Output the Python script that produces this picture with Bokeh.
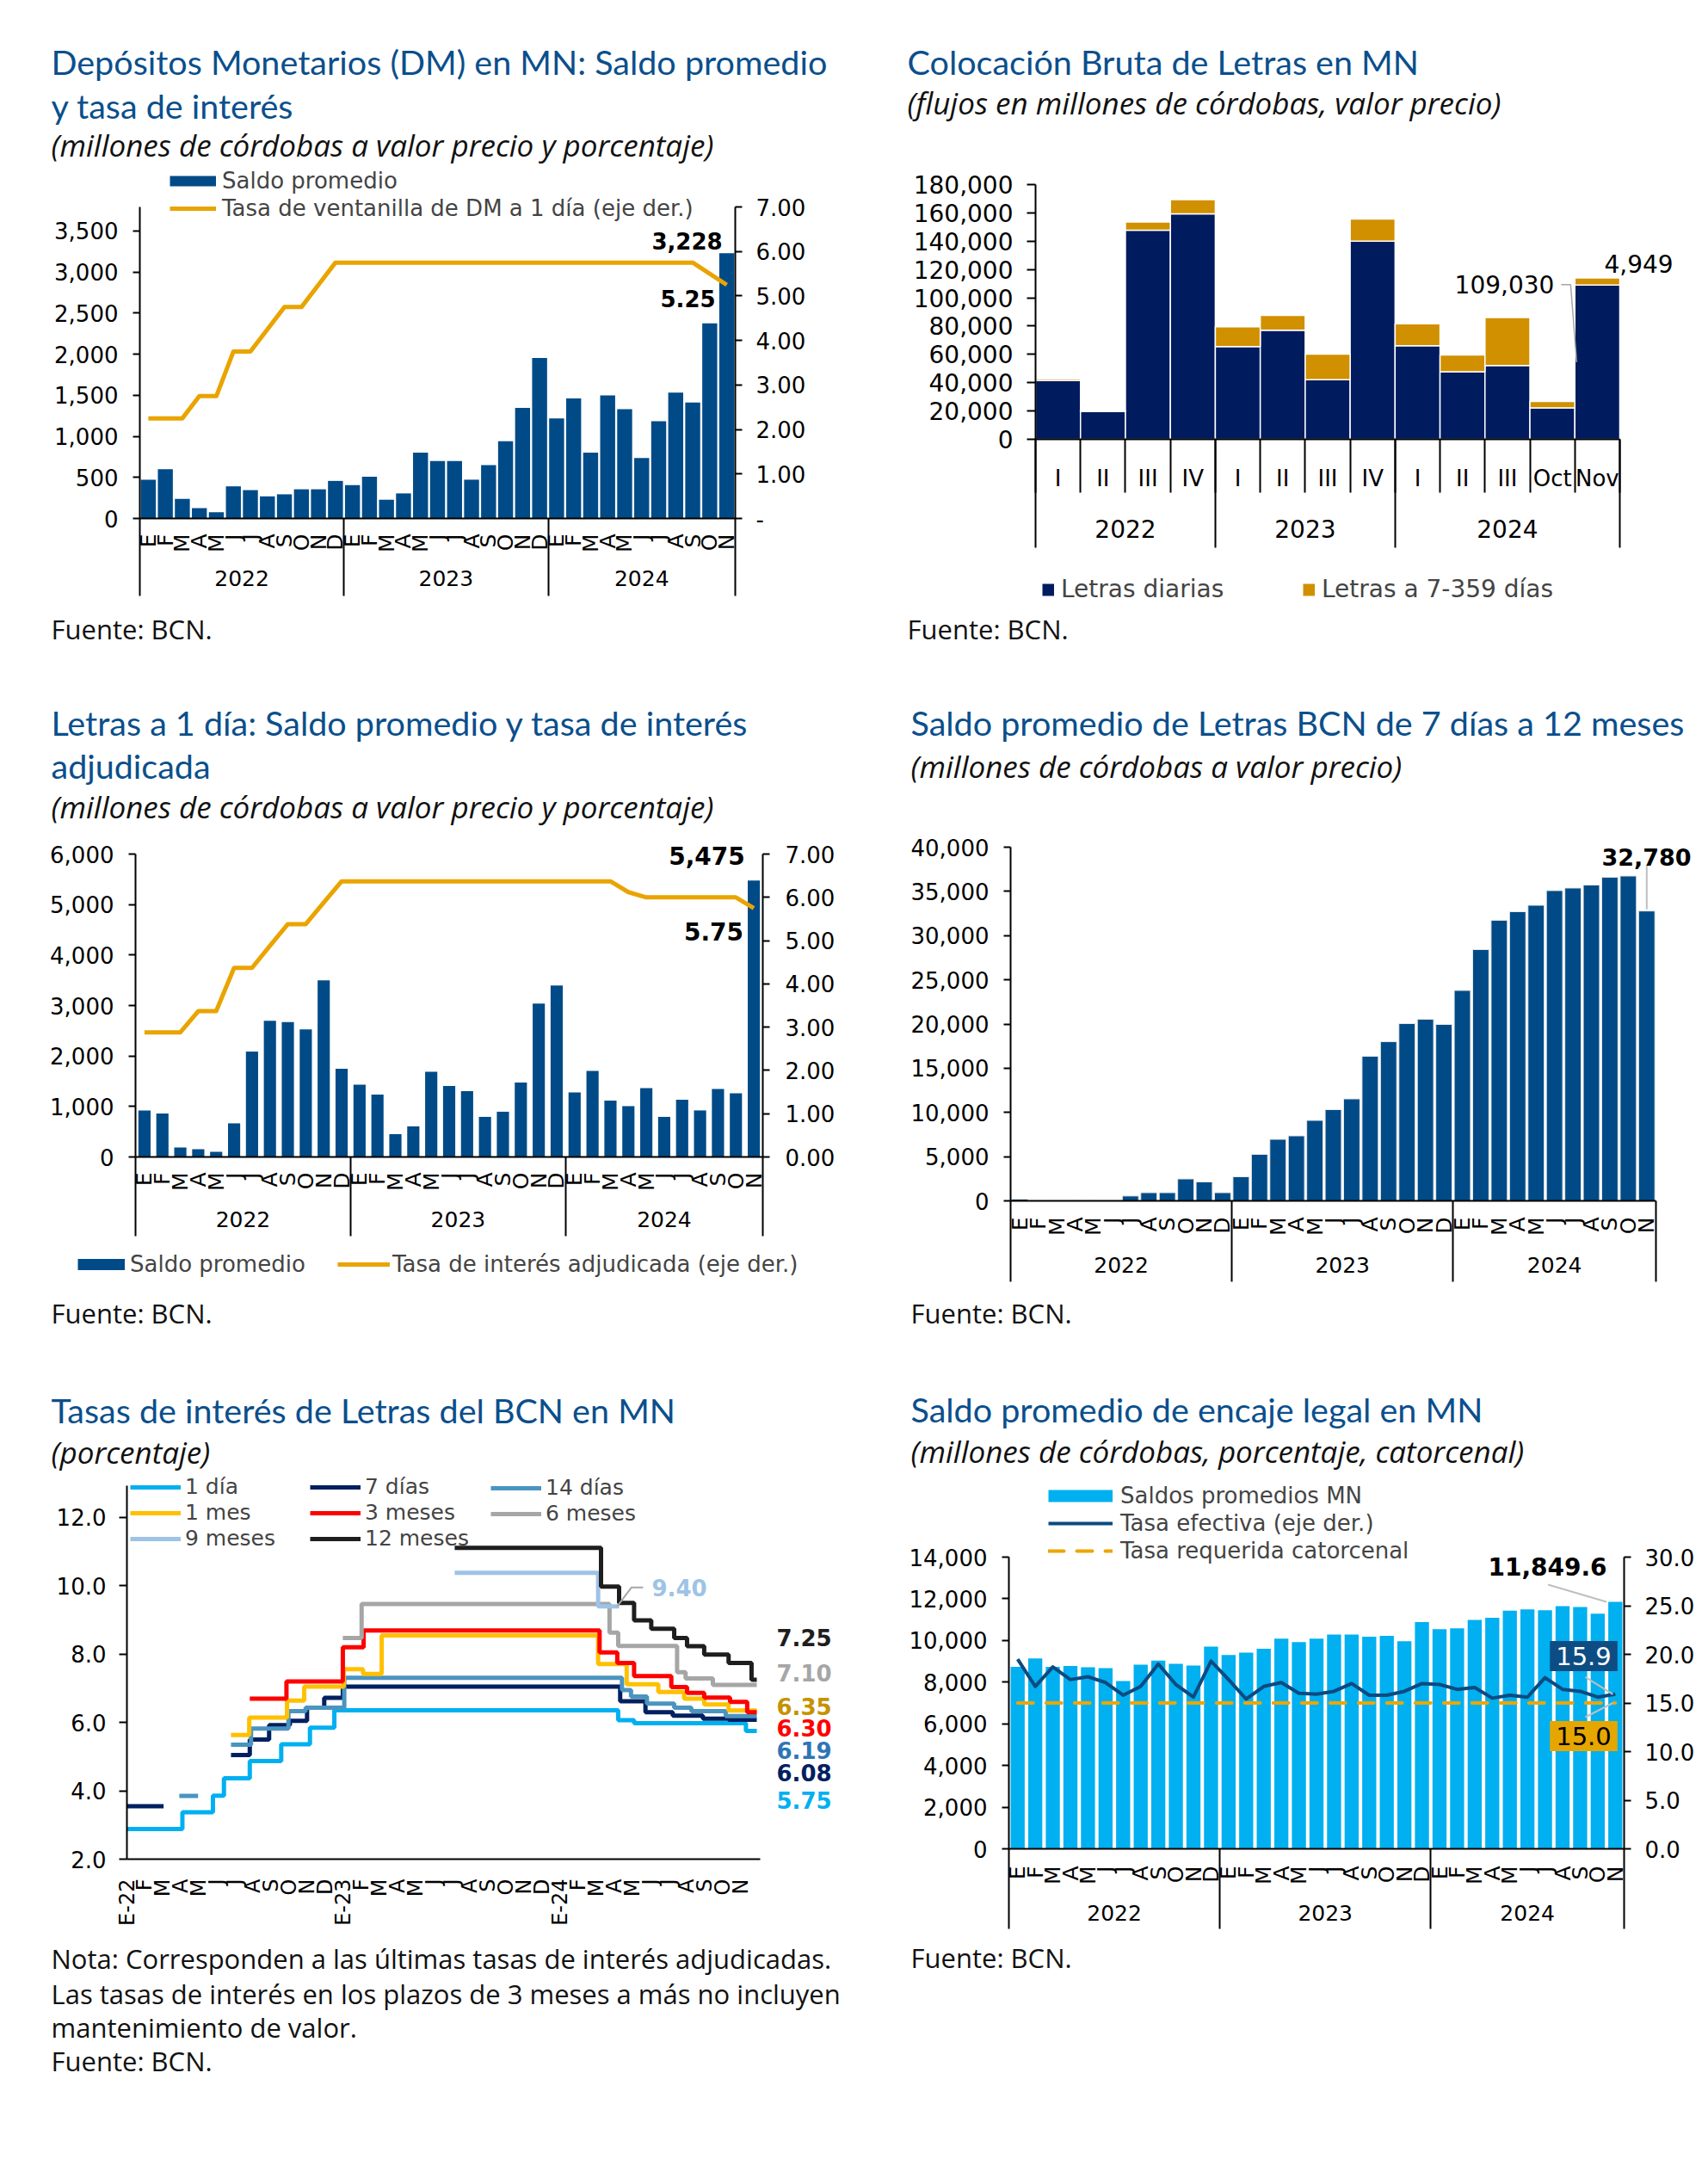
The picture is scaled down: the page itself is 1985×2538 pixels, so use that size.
import numpy as np
from math import pi
from bokeh.plotting import figure
from bokeh.models import (Range1d, LinearAxis, FixedTicker, NumeralTickFormatter,
                          Label, Legend, LegendItem)
from bokeh.layouts import column, row
from bokeh.embed import file_html
from bokeh.resources import INLINE

# ---------------------------------------------------------------- data
MESES = ["E", "F", "M", "A", "M", "J", "J", "A", "S", "O", "N", "D"]
MONTHS35 = MESES + MESES + MESES[:11]
YEARS = ["2022", "2023", "2024"]
MONTHS_5 = ["E-22"] + MESES[1:] + ["E-23"] + MESES[1:] + ["E-24"] + MESES[1:11]

# Chart 1: Depositos monetarios
dm_saldo = [472, 599, 239, 127, 76, 391, 345, 269, 294, 355, 355, 457,
            406, 508, 228, 305, 802, 700, 700, 472, 650, 939, 1345, 1954,
            1218, 1462, 802, 1497, 1330, 736, 1183, 1533, 1411, 2376, 3228]
dm_tasa = [2.25, 2.25, 2.25, 2.75, 2.75, 3.75, 3.75, 4.25, 4.75, 4.75, 5.25, 5.75,
           5.75, 5.75, 5.75, 5.75, 5.75, 5.75, 5.75, 5.75, 5.75, 5.75, 5.75, 5.75,
           5.75, 5.75, 5.75, 5.75, 5.75, 5.75, 5.75, 5.75, 5.75, 5.50, 5.25]

# Chart 2: Colocacion bruta
quarters = ["I", "II", "III", "IV", "I", "II", "III", "IV", "I", "II", "III", "Oct", "Nov"]
q_years = ["2022", "2023", "2024"]
diarias = [41500, 19600, 147700, 159300, 65500, 77100, 42100, 140000,
           66100, 47700, 52200, 22200, 109030]
letras7 = [1200, 600, 5900, 10000, 14000, 10400, 18100, 15700,
           15500, 11900, 33800, 4500, 4949]

# Chart 3: Letras a 1 dia
l1_saldo = [922, 862, 188, 154, 102, 666, 2090, 2696, 2671, 2526, 3498, 1749,
            1433, 1237, 452, 606, 1689, 1408, 1305, 794, 896, 1476, 3038, 3396,
            1280, 1706, 1118, 1007, 1365, 794, 1135, 922, 1348, 1263, 5475]
l1_tasa = [2.88, 2.88, 2.88, 3.37, 3.37, 4.37, 4.37, 4.88, 5.38, 5.38, 5.88, 6.37,
           6.37, 6.37, 6.37, 6.37, 6.37, 6.37, 6.37, 6.37, 6.37, 6.37, 6.37, 6.37,
           6.37, 6.37, 6.37, 6.12, 6.00, 6.00, 6.00, 6.00, 6.00, 6.00, 5.75]

# Chart 4: Letras 7 dias a 12 meses
bcn_saldo = [195, 30, 30, 40, 50, 30, 550, 925, 925, 2480, 2140, 925,
             2725, 5255, 6960, 7350, 9100, 10315, 11530, 16350, 18000, 20050, 20540, 19950,
             23800, 28420, 31730, 32700, 33430, 35090, 35380, 35720, 36600, 36740, 32780]

# Chart 5: tasas (step series, x = month position from E-22)
t1d_x = [0, 3.07, 4.76, 5.37, 6.8, 8.54, 10.13, 11.48, 27.19, 28.07, 34.26, 34.86]
t1d_y = [2.88, 3.37, 3.86, 4.37, 4.87, 5.36, 5.85, 6.36, 6.07, 5.98, 5.75, 5.75]
t7d_x_a = [0, 2.03]
t7d_y_a = [3.55, 3.55]
t7d_x_b = [5.76, 6.8, 7.87, 9.02, 9.97, 10.92, 11.95, 27.3, 28.7, 30.21, 31.88, 33.3, 34.86]
t7d_y_b = [5.05, 5.50, 5.92, 6.05, 6.43, 6.72, 7.05, 6.62, 6.30, 6.20, 6.11, 6.08, 6.08]
t14d_x_a = [2.9, 3.94]
t14d_y_a = [3.85, 3.85]
t14d_x_b = [5.76, 6.87, 8.94, 9.89, 12.03, 27.4, 27.9, 28.78, 30.29, 31.24, 33.14, 34.86]
t14d_y_b = [5.35, 5.82, 6.33, 6.43, 7.31, 6.95, 6.76, 6.55, 6.43, 6.33, 6.19, 6.19]
t1m_x = [5.76, 6.77, 8.86, 9.81, 12.0, 13.07, 14.1, 26.08, 27.66, 29.41, 30.84, 31.95, 33.3, 34.86]
t1m_y = [5.63, 6.14, 6.64, 7.05, 7.56, 7.42, 8.55, 7.71, 7.12, 6.89, 6.70, 6.53, 6.35, 6.35]
t3m_x = [6.8, 8.83, 11.95, 13.1, 26.16, 27.14, 28.07, 30.13, 31.0, 31.95, 33.38, 34.33, 34.86]
t3m_y = [6.70, 7.20, 8.20, 8.69, 8.05, 7.74, 7.36, 7.04, 6.87, 6.73, 6.60, 6.30, 6.30]
t6m_x = [11.95, 12.99, 26.71, 27.19, 30.45, 30.92, 32.43, 34.86]
t6m_y = [8.47, 9.47, 8.63, 8.24, 7.47, 7.29, 7.10, 7.10]
t9m_x = [18.14, 26.08, 27.24]
t9m_y = [10.38, 9.40, 9.40]
t12m_x = [18.14, 26.24, 27.24, 28.07, 29.02, 30.29, 31.0, 31.95, 33.3, 34.57, 34.86]
t12m_y = [11.11, 9.98, 9.50, 8.99, 8.74, 8.47, 8.23, 7.99, 7.74, 7.25, 7.25]

# Chart 6: encaje legal
encaje = [8737, 9139, 8737, 8777, 8717, 8677, 8054, 8837, 9038, 8877, 8797, 9701,
          9299, 9420, 9600, 10082, 9922, 10082, 10283, 10283, 10183, 10223, 9962, 10886,
          10544, 10584, 10986, 11087, 11428, 11488, 11448, 11649, 11609, 11288, 11849.6]
tasa_ef = [19.5, 16.7, 18.7, 17.4, 17.7, 17.1, 15.8, 16.7, 19.0, 16.9, 15.6, 19.3,
           17.4, 15.4, 16.7, 17.1, 16.0, 15.9, 16.2, 17.0, 15.8, 15.8, 16.2, 17.0,
           16.9, 16.4, 16.6, 15.5, 15.8, 15.6, 17.6, 16.4, 16.2, 15.6, 15.9]
tasa_req = [15.0] * 35

# ---------------------------------------------------------------- style
TITLE_FONT = "Lato"
SUB_FONT = "Open Sans"
TXT_FONT = "DejaVu Sans"
TITLE_COLOR = "#0B4F8C"
TITLE_SIZE = 39.5
BAR_BLUE = "#004B87"
GOLD = "#E9A400"
NAVY2 = "#001B5E"
GOLD2 = "#D09000"
CYAN = "#00B0F0"
NAN2 = [np.nan, np.nan]


class Panel:
    """One figure whose frame covers the whole cell; the plot box maps to the data extents."""

    def __init__(self, origin, size, box, xd, yd, extra=None):
        ox, oy = origin
        w, h = size
        L, T, R, B = box
        self.ox, self.oy, self.w, self.h = ox, oy, w, h
        self.xd, self.yd = xd, yd
        self.extra_d = extra or {}
        self.dx = (xd[1] - xd[0]) / (R - L)          # data per pixel
        self.dy = {"default": (yd[1] - yd[0]) / (B - T)}
        xr = Range1d(xd[0] - (L - ox) * self.dx, xd[1] + (ox + w - R) * self.dx)
        yr = Range1d(yd[0] - (oy + h - B) * self.dy["default"], yd[1] + (T - oy) * self.dy["default"])
        p = figure(width=w, height=h, x_range=xr, y_range=yr, output_backend="svg",
                   toolbar_location=None, x_axis_location=None, y_axis_location=None,
                   min_border_left=0, min_border_right=0, min_border_top=0, min_border_bottom=0)
        p.title.visible = False
        ers = {}
        for name, (a0, a1) in self.extra_d.items():
            d = (a1 - a0) / (B - T)
            self.dy[name] = d
            ers[name] = Range1d(a0 - (oy + h - B) * d, a1 + (T - oy) * d)
        if ers:
            p.extra_y_ranges = ers
        p.outline_line_color = None
        p.xgrid.visible = False
        p.ygrid.visible = False
        p.background_fill_color = "white"
        p.border_fill_color = "white"
        self.p = p

    def text(self, px, py, txt, size, color="black", font=TXT_FONT, style="normal",
             align="left", baseline="middle", **kw):
        self.p.add_layout(Label(x=px - self.ox, y=self.oy + self.h - py,
                                x_units="screen", y_units="screen",
                                text=txt, text_font=font, text_font_size=f"{size}px",
                                text_color=color, text_font_style=style,
                                text_align=align, text_baseline=baseline, **kw))

    def titles(self, x, lines, sub, sub_y, fuente_y, notes=()):
        for y, t in lines:
            self.text(x, y, t, TITLE_SIZE, TITLE_COLOR, TITLE_FONT)
        self.text(x, sub_y, sub, 35, "#111111", SUB_FONT, "italic")
        for y, t in notes:
            self.text(x, y, t, 31, "#111111", SUB_FONT)
        self.text(x, fuente_y, "Fuente: BCN.", 31, "#111111", SUB_FONT)

    def legend(self, items, px, py_top, glyph_w, row_h, size, standoff, spacing=0):
        n = len(items)
        bottom = py_top + n * row_h + (n - 1) * spacing
        lg = Legend(items=[LegendItem(label=l, renderers=[r]) for l, r in items],
                    location=(px - self.ox, self.oy + self.h - bottom), orientation="vertical",
                    glyph_width=int(glyph_w), glyph_height=int(row_h), label_height=int(row_h),
                    spacing=int(spacing), padding=0, margin=0, border_line_color=None,
                    background_fill_alpha=0, label_text_font=TXT_FONT,
                    label_text_font_size=f"{size}px", label_standoff=int(standoff))
        self.p.add_layout(lg)

    def leader(self, anchor, offsets, rname="default", color="#A6A6A6", width=1.5):
        ax, ay = anchor
        xs = [ax + dx * self.dx for dx, dy in offsets]
        ys = [ay - dy * self.dy[rname] for dx, dy in offsets]
        self.p.line(xs, ys, y_range_name=rname, line_color=color, line_width=width)


def yaxis(c, side, ticks, fmt, rname="default", overrides=None, size=26, tick_out=8, standoff=17):
    loc = c.xd[0] if side == "left" else c.xd[1]
    bounds = c.yd if rname == "default" else c.extra_d[rname]
    ax = LinearAxis(y_range_name=rname, fixed_location=loc, bounds=tuple(float(b) for b in bounds),
                    ticker=FixedTicker(ticks=ticks, minor_ticks=[]),
                    formatter=NumeralTickFormatter(format=fmt))
    ax.major_tick_out = tick_out
    ax.major_tick_in = 0
    ax.minor_tick_out = 0
    ax.minor_tick_in = 0
    ax.major_tick_line_width = 2
    ax.major_tick_line_color = "black"
    ax.minor_tick_line_color = None
    ax.axis_line_color = "black"
    ax.axis_line_width = 2
    ax.major_label_text_font = TXT_FONT
    ax.major_label_text_font_size = f"{size}px"
    ax.major_label_text_color = "black"
    ax.major_label_standoff = standoff
    if overrides:
        ax.major_label_overrides = overrides
    c.p.add_layout(ax, side)
    return ax


def cat_axes(c, centers, labels, seps, sep_len, off1, rot, size1,
             gcenters=None, glabels=None, off2=0, size2=25, gseps=None, gsep_len=0):
    """Two horizontal axes on the same baseline: category labels + group labels.
    offN = distance in px from the baseline to the labels."""
    bounds = tuple(float(b) for b in c.xd)
    ax1 = LinearAxis(fixed_location=c.yd[0], bounds=bounds,
                     ticker=FixedTicker(ticks=centers, minor_ticks=seps))
    ax1.major_label_overrides = dict(zip(centers, labels))
    ax1.major_tick_line_color = None
    ax1.major_tick_out = 0
    ax1.major_tick_in = 0
    ax1.minor_tick_out = sep_len
    ax1.minor_tick_in = 0
    ax1.minor_tick_line_color = "black" if seps else None
    ax1.minor_tick_line_width = 2
    ax1.axis_line_color = "black"
    ax1.axis_line_width = 2
    if rot:
        ax1.major_label_orientation = pi / 2
    ax1.major_label_standoff = off1 - sep_len
    ax1.major_label_text_font = TXT_FONT
    ax1.major_label_text_font_size = f"{size1}px"
    ax1.major_label_text_color = "black"
    c.p.add_layout(ax1, "below")
    if gcenters:
        ax2 = LinearAxis(fixed_location=c.yd[0], bounds=bounds,
                         ticker=FixedTicker(ticks=gcenters, minor_ticks=gseps or []))
        ax2.major_label_overrides = dict(zip(gcenters, glabels))
        ax2.axis_line_color = None
        ax2.major_tick_line_color = None
        ax2.major_tick_out = 0
        ax2.major_tick_in = 0
        ax2.minor_tick_in = 0
        if gseps:
            ax2.minor_tick_out = gsep_len
            ax2.minor_tick_line_color = "black"
            ax2.minor_tick_line_width = 2
        else:
            ax2.minor_tick_out = 0
            ax2.minor_tick_line_color = None
        ax2.major_label_standoff = off2 - (gsep_len if gseps else 0)
        ax2.major_label_text_font = TXT_FONT
        ax2.major_label_text_font_size = f"{size2}px"
        ax2.major_label_text_color = "black"
        c.p.add_layout(ax2, "below")


x35 = np.arange(35) + 0.5
mcenters = [float(v) for v in x35]
ycenters = [6.0, 18.0, 29.5]
ysep = [0, 12, 24, 35]

# ---------------------------------------------------------------- chart 1
c1 = Panel((8, 8), (992, 772), (162, 240, 854, 602), (0, 35), (0, 3792), {"r": (0, 7)})
p1 = c1.p
p1.vbar(x=x35, top=dm_saldo, width=0.88, fill_color=BAR_BLUE, line_color=None)
r1 = p1.line(x35, dm_tasa, y_range_name="r", line_width=5, line_color=GOLD, line_join="round")
yaxis(c1, "left", list(range(0, 3501, 500)), "0,0")
yaxis(c1, "right", list(range(0, 8)), "0.00", rname="r", overrides={0: "-"}, standoff=16)
cat_axes(c1, mcenters, MONTHS35, ysep, 90, 18, True, 25, ycenters, YEARS, 60, 25)
prox1 = p1.line(NAN2, NAN2, line_width=12, line_color=BAR_BLUE)
c1.legend([("Saldo promedio", prox1), ("Tasa de ventanilla de DM a 1 día (eje der.)", r1)],
          197, 194, 54, 32, 26, 7)
c1.titles(59, [(71, "Depósitos Monetarios (DM) en MN: Saldo promedio"), (122, "y tasa de interés")],
          "(millones de córdobas a valor precio y porcentaje)", 168, 730)
c1.text(798, 279, "3,228", 26, "black", TXT_FONT, "bold", "center")
c1.text(799, 346, "5.25", 26, "black", TXT_FONT, "bold", "center")

# ---------------------------------------------------------------- chart 2
c2 = Panel((1000, 8), (977, 772), (1203, 214, 1882, 510), (0, 13), (0, 180000))
p2 = c2.p
x13 = np.arange(13) + 0.5
tot = np.array(diarias) + np.array(letras7)
p2.vbar(x=x13, bottom=0, top=diarias, width=1, fill_color=NAVY2, line_color="white", line_width=1.5)
p2.vbar(x=x13, bottom=diarias, top=tot, width=1, fill_color=GOLD2, line_color="white", line_width=1.5)
yaxis(c2, "left", list(range(0, 180001, 20000)), "0,0", size=28, tick_out=10, standoff=16)
cat_axes(c2, [float(v) for v in x13], quarters, list(range(14)), 62, 30, False, 26,
         [2.0, 6.0, 10.5], q_years, 93, 28, gseps=[0, 4, 8, 13], gsep_len=126)
pd1 = p2.line(NAN2, NAN2, line_width=14, line_color=NAVY2)
pd2 = p2.line(NAN2, NAN2, line_width=14, line_color=GOLD2)
c2.legend([("Letras diarias", pd1)], 1211, 669, 14, 32, 28, 8)
c2.legend([("Letras a 7-359 días", pd2)], 1514, 669, 14, 32, 28, 8)
c2.titles(1054, [(71, "Colocación Bruta de Letras en MN")],
          "(flujos en millones de córdobas, valor precio)", 119, 730)
c2.text(1748, 330, "109,030", 28, "black", TXT_FONT, "normal", "center")
c2.text(1904, 306, "4,949", 28, "black", TXT_FONT, "normal", "center")
c2.leader((x13[-1] - 0.46, diarias[-1] / 2), [(-18, -90), (-7, -90), (0, 0)])

# ---------------------------------------------------------------- chart 3
c3 = Panel((8, 780), (992, 780), (157, 992, 886, 1344), (0, 35), (0, 6000), {"r": (0, 7)})
p3 = c3.p
p3.vbar(x=x35, top=l1_saldo, width=0.68, fill_color=BAR_BLUE, line_color=None)
r3 = p3.line(x35, l1_tasa, y_range_name="r", line_width=5, line_color=GOLD, line_join="round")
yaxis(c3, "left", list(range(0, 6001, 1000)), "0,0")
yaxis(c3, "right", list(range(0, 8)), "0.00", rname="r", standoff=18)
cat_axes(c3, mcenters, MONTHS35, ysep, 92, 18, True, 25, ycenters, YEARS, 63, 25)
prox3 = p3.line(NAN2, NAN2, line_width=13, line_color=BAR_BLUE)
c3.legend([("Saldo promedio", prox3)], 90, 1454, 55, 30, 26, 6)
c3.legend([("Tasa de interés adjudicada (eje der.)", r3)], 392, 1454, 61, 30, 26, 3)
c3.titles(59, [(839, "Letras a 1 día: Saldo promedio y tasa de interés"), (889, "adjudicada")],
          "(millones de córdobas a valor precio y porcentaje)", 937, 1525)
c3.text(821, 994, "5,475", 28, "black", TXT_FONT, "bold", "center")
c3.text(829, 1082, "5.75", 28, "black", TXT_FONT, "bold", "center")

# ---------------------------------------------------------------- chart 4
c4 = Panel((1000, 780), (977, 780), (1174, 984, 1924, 1395), (0, 35), (0, 40000))
p4 = c4.p
p4.vbar(x=x35, top=bcn_saldo, width=0.88, fill_color=BAR_BLUE, line_color="#E6E6E6", line_width=1)
yaxis(c4, "left", list(range(0, 40001, 5000)), "0,0")
cat_axes(c4, mcenters, MONTHS35, ysep, 94, 19, True, 25, ycenters, YEARS, 65, 25)
c4.titles(1058, [(839, "Saldo promedio de Letras BCN de 7 días a 12 meses")],
          "(millones de córdobas a valor precio)", 890, 1525)
c4.text(1913, 995, "32,780", 27, "black", TXT_FONT, "bold", "center")
c4.leader((x35[-1], bcn_saldo[-1]), [(0, -2), (0, -53)], color="#BFBFBF", width=2)

# ---------------------------------------------------------------- chart 5
c5 = Panel((8, 1560), (992, 960), (147, 1726, 883, 2160), (0, 35.05), (2, 12.93))
p5 = c5.p
C1D, C7D, C14D, C1M, C3M, C6M, C9M, C12M = ("#00B0F0", "#002060", "#4A94C0", "#FFC000",
                                            "#FF0000", "#A6A6A6", "#9DC3E6", "#1E1E1E")
W5 = 5
s1d = p5.step(t1d_x, t1d_y, mode="after", line_width=W5, line_color=C1D)
s7d = p5.step(t7d_x_a, t7d_y_a, mode="after", line_width=W5, line_color=C7D)
p5.step(t7d_x_b, t7d_y_b, mode="after", line_width=W5, line_color=C7D)
s14d = p5.step(t14d_x_a, t14d_y_a, mode="after", line_width=W5, line_color=C14D)
p5.step(t14d_x_b, t14d_y_b, mode="after", line_width=W5, line_color=C14D)
s1m = p5.step(t1m_x, t1m_y, mode="after", line_width=W5, line_color=C1M)
s3m = p5.step(t3m_x, t3m_y, mode="after", line_width=W5, line_color=C3M)
s6m = p5.step(t6m_x, t6m_y, mode="after", line_width=W5, line_color=C6M)
s9m = p5.step(t9m_x, t9m_y, mode="after", line_width=W5, line_color=C9M)
s12m = p5.step(t12m_x, t12m_y, mode="after", line_width=W5, line_color=C12M)
yaxis(c5, "left", [2, 4, 6, 8, 10, 12], "0.0", tick_out=9, standoff=15)
cat_axes(c5, [float(i) for i in range(35)], MONTHS_5, [], 0, 23, True, 24)
c5.legend([("1 día", s1d), ("1 mes", s1m), ("9 meses", s9m)], 151, 1716, 59, 28, 25, 5, 1)
c5.legend([("7 días", s7d), ("3 meses", s3m), ("12 meses", s12m)], 360, 1716, 59, 28, 25, 5, 1)
c5.legend([("14 días", s14d), ("6 meses", s6m)], 570, 1716, 59, 28, 25, 5, 1)
c5.titles(59, [(1638, "Tasas de interés de Letras del BCN en MN")], "(porcentaje)", 1687, 2394,
          notes=[(2275, "Nota: Corresponden a las últimas tasas de interés adjudicadas."),
                 (2316, "Las tasas de interés en los plazos de 3 meses a más no incluyen"),
                 (2355, "mantenimiento de valor.")])
end_labels = [("7.25", 1902, C12M), ("7.10", 1943, C6M), ("6.35", 1982, "#C59200"),
              ("6.30", 2007, C3M), ("6.19", 2033, "#2E75B6"), ("6.08", 2059, C7D),
              ("5.75", 2091, C1D)]
for txt, yy, col in end_labels:
    c5.text(934, yy, txt, 26, col, TXT_FONT, "bold", "center")
c5.text(757, 1844, "9.40", 26, C9M, TXT_FONT, "bold", "left")
c5.leader((t9m_x[-1] - 0.1, t9m_y[-1]), [(0, 0), (16.6, -22), (30, -22)], width=2)

# ---------------------------------------------------------------- chart 6
c6 = Panel((1000, 1560), (977, 960), (1172, 1809, 1887, 2148), (0, 35), (0, 14000), {"r": (0, 30)})
p6 = c6.p
p6.vbar(x=x35, top=encaje, width=0.8, fill_color=CYAN, line_color=None)
rreq = p6.line(x35, tasa_req, y_range_name="r", line_width=4, line_color="#EDA600",
               line_dash="18 15", line_cap="round")
ref = p6.line(x35, tasa_ef, y_range_name="r", line_width=4, line_color="#0D4A80", line_join="round")
yaxis(c6, "left", list(range(0, 14001, 2000)), "0,0")
yaxis(c6, "right", [0, 5, 10, 15, 20, 25, 30], "0.0", rname="r", standoff=16)
cat_axes(c6, mcenters, MONTHS35, ysep, 93, 20, True, 25, ycenters, YEARS, 65, 25)
prox6 = p6.line(NAN2, NAN2, line_width=14, line_color=CYAN)
c6.legend([("Saldos promedios MN", prox6), ("Tasa efectiva (eje der.)", ref),
           ("Tasa requerida catorcenal", rreq)], 1218, 1722, 75, 32, 26, 9)
c6.titles(1058, [(1637, "Saldo promedio de encaje legal en MN")],
          "(millones de córdobas, porcentaje, catorcenal)", 1686, 2274)
c6.text(1798, 1820, "11,849.6", 28, "black", TXT_FONT, "bold", "center")
c6.leader((x35[-1] - 0.5, encaje[-1]), [(0, 0), (-68, -20)], color="#BFBFBF", width=2)
c6.leader((x35[-1] - 0.14, tasa_ef[-1]), [(0, 0), (-32, -20)], rname="r", color="#BFBFBF", width=2)
c6.leader((x35[-1] - 0.14, tasa_req[-1]), [(0, 0), (-32, 16.5)], rname="r", color="#BFBFBF", width=2)
c6.text(1840, 1924, "15.9", 29, "white", TXT_FONT, "normal", "center",
        background_fill_color="#0E4D83", padding=7)
c6.text(1840, 2017, "15.0", 29, "black", TXT_FONT, "normal", "center",
        background_fill_color="#E6A600", padding=7)

# The page template has no body margin, so the 8px offset is applied to the layout itself.
layout = column(row(c1.p, c2.p), row(c3.p, c4.p), row(c5.p, c6.p), margin=(8, 0, 0, 8))
open("out.html", "w").write(file_html(layout, INLINE))
